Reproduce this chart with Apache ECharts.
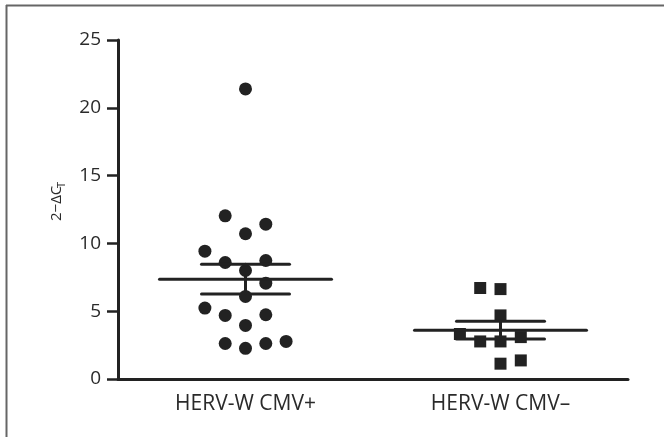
<!DOCTYPE html>
<html>
<head>
<meta charset="utf-8">
<script src="https://cdn.jsdelivr.net/npm/echarts@6/dist/echarts.min.js"></script>
<style>html,body{margin:0;padding:0;background:#fff;}#c{width:664px;height:437px;}</style>
</head>
<body>
<div id="c"></div>
<script>
// Categories and tick values
var categories = ['HERV-W CMV+', 'HERV-W CMV\u2013'];
var yTicks = [0, 5, 10, 15, 20, 25];

// Values (2^-ΔCT)
var cmvPlusValues  = [21.39, 12.03, 11.42, 10.71, 9.43, 8.59, 8.74, 8.0, 7.07, 6.09, 5.23, 4.69, 4.74, 3.95, 2.62, 2.26, 2.62, 2.77];
var cmvPlusColumns = [0, -1, 1, 0, -2, -1, 1, 0, 1, 0, -2, -1, 1, 0, -1, 0, 1, 2];
var cmvMinusValues  = [6.71, 6.63, 4.69, 3.32, 2.77, 2.77, 3.09, 1.13, 1.37];
var cmvMinusColumns = [-1, 0, 0, -2, -1, 0, 1, 0, 1];

// Mean and SEM bounds
var groupMean  = [7.35, 3.60];
var groupUpper = [8.47, 4.25];
var groupLower = [6.26, 2.95];

var COL = 0.0796; // column spacing in category units
function pts(vals, cols, idx) {
  return vals.map(function (v, i) { return [idx + cols[i] * COL, v]; });
}

var ink = '#222';
var chart = echarts.init(document.getElementById('c'), null, {renderer: 'canvas'});
chart.setOption({
  animation: false,
  backgroundColor: '#fff',
  grid: {left: 118, right: 36, top: 40, bottom: 58},
  xAxis: [{
    type: 'category',
    data: categories,
    boundaryGap: true,
    axisLine: {onZero: false, lineStyle: {color: ink, width: 3}},
    axisTick: {alignWithLabel: true, length: 9, lineStyle: {color: ink, width: 2.5}},
    axisLabel: {color: '#2a2a2a', fontSize: 21, fontFamily: 'Open Sans', margin: 15},
    splitLine: {show: false}
  }, {
    type: 'value', min: -0.5, max: 1.5, show: false
  }],
  yAxis: {
    type: 'value', min: yTicks[0], max: yTicks[yTicks.length - 1], interval: 5,
    axisLine: {show: true, onZero: false, lineStyle: {color: ink, width: 3}},
    axisTick: {show: true, length: 11, lineStyle: {color: ink, width: 2.5}},
    axisLabel: {color: '#2a2a2a', fontSize: 19, fontFamily: 'Open Sans', margin: 17},
    splitLine: {show: false}
  },
  graphic: [
    {type: 'line', shape: {x1: 6, y1: 5.5, x2: 664, y2: 5.5}, style: {stroke: '#666', lineWidth: 2}, silent: true},
    {type: 'line', shape: {x1: 6.5, y1: 5, x2: 6.5, y2: 437}, style: {stroke: '#666', lineWidth: 2}, silent: true},
    {type: 'group', x: 57, y: 221, rotation: Math.PI / 2, children: [
      {type: 'text', x: 0, y: 0, style: {text: '2\u2212\u0394C', fontSize: 15, fontFamily: 'Open Sans', fill: '#2a2a2a', textAlign: 'left', textVerticalAlign: 'middle'}},
      {type: 'text', x: 33, y: 5, style: {text: 'T', fontSize: 11, fontFamily: 'Open Sans', fill: '#2a2a2a', textAlign: 'left', textVerticalAlign: 'middle'}}
    ]}
  ],
  series: [
    {type: 'scatter', xAxisIndex: 1, symbol: 'circle', symbolSize: 13, itemStyle: {color: '#222', opacity: 1},
     data: pts(cmvPlusValues, cmvPlusColumns, 0)},
    {type: 'scatter', xAxisIndex: 1, symbol: 'rect', symbolSize: 12, itemStyle: {color: '#222', opacity: 1},
     data: pts(cmvMinusValues, cmvMinusColumns, 1)},
    {type: 'custom', xAxisIndex: 1, z: 5,
     data: groupMean.map(function (m, i) { return [i, m, groupUpper[i], groupLower[i]]; }),
     renderItem: function (params, api) {
       var c = api.coord([api.value(0), api.value(1)]);
       var u = api.coord([api.value(0), api.value(2)]);
       var l = api.coord([api.value(0), api.value(3)]);
       var st = {stroke: ink, lineWidth: 3, lineCap: 'round'};
       return {type: 'group', children: [
         {type: 'line', shape: {x1: c[0] - 86, y1: c[1], x2: c[0] + 86, y2: c[1]}, style: st},
         {type: 'line', shape: {x1: u[0] - 44, y1: u[1], x2: u[0] + 44, y2: u[1]}, style: st},
         {type: 'line', shape: {x1: l[0] - 44, y1: l[1], x2: l[0] + 44, y2: l[1]}, style: st},
         {type: 'line', shape: {x1: u[0], y1: u[1], x2: l[0], y2: l[1]}, style: st}
       ]};
     }}
  ]
});
</script>
</body>
</html>
